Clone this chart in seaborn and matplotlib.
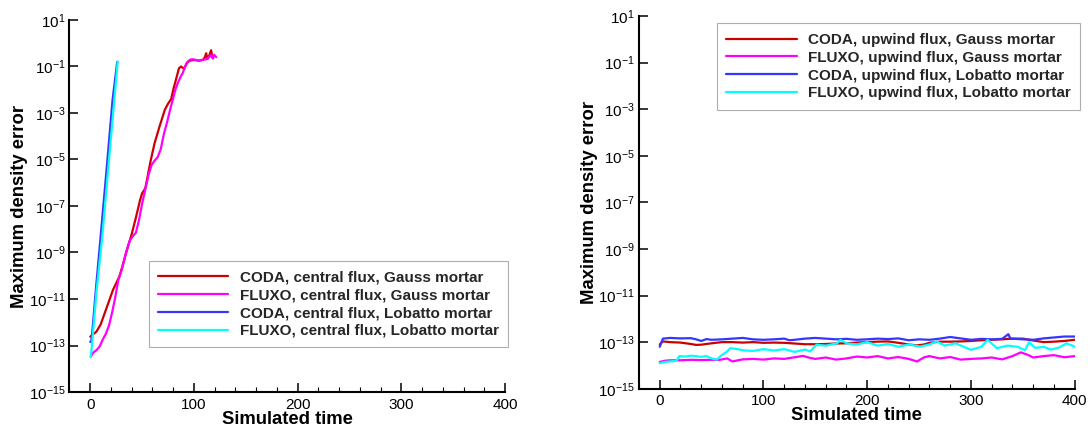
import numpy as np
import pandas as pd
import matplotlib
matplotlib.use("Agg")
import matplotlib.pyplot as plt
import seaborn as sns
from matplotlib.ticker import FixedLocator, MultipleLocator, FuncFormatter, NullLocator

# ---------------- data (log10 of maximum density error) -------------
# Left panel: central flux
left_labels = ["CODA, central flux, Gauss mortar", "FLUXO, central flux, Gauss mortar",
               "CODA, central flux, Lobatto mortar", "FLUXO, central flux, Lobatto mortar"]
coda_cg_t = [0, 2, 6, 10, 14, 18, 22, 28, 31, 35, 40, 44, 48, 50, 53, 55, 58, 62, 67, 72, 75,
             78, 80, 83, 85.5, 87.5, 90.5, 93, 96, 100, 105, 109, 110.5, 111.7, 113, 114.5,
             116.5, 117.5, 118.5]
coda_cg_e = [-12.62, -12.55, -12.4, -12.1, -11.6, -11.1, -10.6, -10.04, -9.6, -8.95, -8.2,
             -7.5, -6.75, -6.45, -6.25, -5.8, -5.1, -4.3, -3.55, -2.85, -2.6, -2.4, -2.0, -1.5,
             -1.08, -1.0, -1.1, -0.85, -0.75, -0.72, -0.75, -0.7, -0.6, -0.43, -0.68, -0.55,
             -0.3, -0.55, -0.65]
fluxo_cg_t = [0.5, 3, 6, 9, 12, 15, 18, 21, 24, 27, 30, 34.5, 38, 41, 44, 47, 50, 53, 56, 59,
              62, 65, 68, 71, 74.6, 77, 79.5, 82, 84.3, 87, 89.1, 91.5, 94, 96.5, 98.8, 102,
              105, 108, 111.7, 114, 116.5, 118, 119.5, 121.4]
fluxo_cg_e = [-13.48, -13.3, -13.2, -13.05, -12.75, -12.5, -12.15, -11.6, -10.95, -10.2, -9.8,
              -9.0, -8.5, -8.3, -8.15, -7.6, -6.9, -6.3, -5.7, -5.25, -5.05, -4.9, -4.55, -3.9,
              -3.3, -2.85, -2.44, -2.0, -1.72, -1.45, -1.29, -1.0, -0.79, -0.7, -0.69, -0.72,
              -0.75, -0.72, -0.69, -0.62, -0.5, -0.65, -0.5, -0.6]
coda_cl_t = [0, 1, 2, 6, 10.3, 16, 21.5, 26]
coda_cl_e = [-12.85, -12.8, -12.4, -10.3, -8.17, -5.3, -2.44, -0.8]
fluxo_cl_t = [0.5, 2, 6, 11.9, 17.5, 23.2, 26.5]
fluxo_cl_e = [-13.5, -12.8, -10.7, -8.17, -5.3, -2.44, -0.78]

# Right panel: upwind flux
right_labels = ["CODA, upwind flux, Gauss mortar", "FLUXO, upwind flux, Gauss mortar",
                "CODA, upwind flux, Lobatto mortar", "FLUXO, upwind flux, Lobatto mortar"]
coda_ug_t = [0, 3, 10, 20, 30, 35, 40, 50, 60, 70, 80, 90, 100, 110, 120, 130, 140, 150, 160,
             170, 180, 190, 200, 210, 220, 230, 240, 248, 255, 260, 270, 280, 290, 300, 310,
             320, 330, 340, 350, 360, 370, 380, 390, 400]
coda_ug_e = [-13.1, -12.97, -13.0, -13.02, -13.08, -13.12, -13.11, -13.05, -13.0, -13.0,
             -13.02, -13.0, -13.03, -13.02, -13.03, -13.06, -13.09, -13.09, -13.08, -13.06,
             -13.05, -13.02, -13.0, -12.98, -12.97, -13.03, -13.1, -13.14, -13.1, -13.03,
             -12.98, -12.98, -12.97, -12.95, -12.92, -12.9, -12.88, -12.85, -12.85, -12.93,
             -13.0, -12.98, -12.95, -12.9]
fluxo_ug_t = [0, 5, 10, 20, 30, 40, 50, 58, 65, 70, 80, 90, 100, 110, 120, 130, 138, 145, 150,
              160, 170, 180, 190, 200, 210, 220, 230, 240, 248, 255, 260, 270, 280, 290, 300,
              310, 320, 330, 340, 348, 355, 360, 370, 380, 390, 400]
fluxo_ug_e = [-13.85, -13.8, -13.78, -13.78, -13.76, -13.77, -13.76, -13.76, -13.7, -13.83,
              -13.74, -13.72, -13.75, -13.7, -13.72, -13.65, -13.59, -13.68, -13.72, -13.66,
              -13.75, -13.7, -13.62, -13.66, -13.6, -13.7, -13.64, -13.72, -13.83, -13.65,
              -13.6, -13.7, -13.64, -13.75, -13.72, -13.7, -13.66, -13.74, -13.6, -13.44,
              -13.55, -13.66, -13.6, -13.56, -13.65, -13.6]
coda_ul_t = [0, 3, 10, 20, 30, 35, 40, 45, 50, 60, 70, 80, 90, 100, 110, 120, 125, 130, 140,
             150, 160, 170, 180, 190, 200, 210, 220, 230, 240, 250, 260, 270, 280, 290, 300,
             310, 320, 330, 336, 338, 350, 360, 370, 380, 390, 400]
coda_ul_e = [-13.2, -12.85, -12.82, -12.84, -12.83, -12.88, -12.95, -12.87, -12.9, -12.88,
             -12.85, -12.82, -12.88, -12.9, -12.88, -12.85, -12.92, -12.9, -12.85, -12.82,
             -12.85, -12.88, -12.86, -12.9, -12.88, -12.85, -12.87, -12.84, -12.92, -12.88,
             -12.9, -12.85, -12.78, -12.84, -12.9, -12.86, -12.88, -12.86, -12.66, -12.85,
             -12.88, -12.9, -12.84, -12.8, -12.76, -12.76]
fluxo_ul_t = [0, 5, 10, 16, 19, 25, 30, 40, 45, 50, 55, 60, 65, 68, 75, 80, 90, 100, 110, 120,
              130, 140, 145, 151, 160, 171, 174, 180, 190, 200, 210, 220, 230, 240, 251, 260,
              267, 275, 285, 300, 310, 316, 325, 335, 345, 352, 356, 362, 370, 377, 385, 392,
              400]
fluxo_ul_e = [-13.9, -13.85, -13.83, -13.8, -13.6, -13.62, -13.58, -13.63, -13.6, -13.7,
              -13.75, -13.55, -13.4, -13.26, -13.3, -13.35, -13.38, -13.3, -13.36, -13.3,
              -13.42, -13.32, -13.4, -13.11, -13.15, -13.05, -12.9, -13.05, -13.1, -13.0,
              -13.15, -13.08, -13.2, -13.1, -13.19, -13.1, -12.97, -13.15, -13.05, -13.33,
              -13.2, -12.9, -13.26, -13.15, -13.2, -13.35, -13.0, -13.25, -13.2, -13.32,
              -13.23, -13.05, -13.19]

colors = ["#cc0000", "#ff00ff", "#3535ff", "#00ffff"]
xticks_major = [0, 100, 200, 300, 400]
ytick_exponents = [1, -1, -3, -5, -7, -9, -11, -13, -15]


def long_df(series, labels):
    frames = []
    for (t, e), lab in zip(series, labels):
        frames.append(pd.DataFrame({"time": t, "error": np.power(10.0, e), "series": lab}))
    return pd.concat(frames, ignore_index=True)


left_df = long_df([(coda_cg_t, coda_cg_e), (fluxo_cg_t, fluxo_cg_e),
                   (coda_cl_t, coda_cl_e), (fluxo_cl_t, fluxo_cl_e)], left_labels)
right_df = long_df([(coda_ug_t, coda_ug_e), (fluxo_ug_t, fluxo_ug_e),
                    (coda_ul_t, coda_ul_e), (fluxo_ul_t, fluxo_ul_e)], right_labels)

# ---------------- style -------------
sns.set_theme(style="white")
plt.rcParams["font.family"] = ["Liberation Sans", "DejaVu Sans"]
plt.rcParams["mathtext.fontset"] = "custom"
plt.rcParams["mathtext.rm"] = "Liberation Sans"
plt.rcParams["mathtext.it"] = "Liberation Sans:italic"
plt.rcParams["mathtext.bf"] = "Liberation Sans:bold"

fig = plt.figure(figsize=(10.91, 4.28), dpi=100)
ax_l = fig.add_axes([0.0637, 0.0841, 0.3994, 0.8692])
ax_r = fig.add_axes([0.5857, 0.0918, 0.3994, 0.8708])


def style_axes(ax, df, labels, leg_anchor):
    sns.lineplot(data=df, x="time", y="error", hue="series", hue_order=labels,
                 palette=dict(zip(labels, colors)), estimator=None, sort=False,
                 linewidth=1.6, legend=False, ax=ax)
    ax.set_yscale("log")
    ax.set_xlim(-20, 400)
    ax.set_ylim(1e-15, 1e1)
    for s in ["top", "right"]:
        ax.spines[s].set_visible(False)
    for s in ["left", "bottom"]:
        ax.spines[s].set_linewidth(1.5)
        ax.spines[s].set_color("black")
    ax.xaxis.set_major_locator(FixedLocator(xticks_major))
    ax.xaxis.set_minor_locator(MultipleLocator(20))
    ax.yaxis.set_major_locator(FixedLocator([10.0 ** k for k in ytick_exponents]))
    ax.yaxis.set_minor_locator(NullLocator())
    ax.yaxis.set_major_formatter(FuncFormatter(
        lambda v, p: r"$\mathregular{10^{%d}}$" % int(round(np.log10(v)))))
    ax.tick_params(axis="both", which="major", direction="in", length=6.5, width=1.1,
                   labelsize=11, color="black", labelcolor="black")
    ax.tick_params(axis="x", which="minor", direction="in", length=3.3, width=0.8,
                   color="black", bottom=True)
    ax.tick_params(axis="x", which="major", pad=4, bottom=True)
    ax.tick_params(axis="y", which="major", pad=3, left=True)
    ax.set_xlabel("Simulated time", fontsize=13.3, fontweight="bold", color="black")
    ax.set_ylabel("Maximum density error", fontsize=13.3, fontweight="bold", color="black")
    ax.xaxis.set_label_coords(0.5, -0.073)
    ax.xaxis.label.set_va("center")
    ax.yaxis.set_label_coords(-0.1136, 0.5)
    ax.yaxis.label.set_va("center")
    leg = ax.legend(ax.get_lines()[:4], labels, loc="upper left", bbox_to_anchor=leg_anchor,
                    borderaxespad=0, frameon=True, fancybox=False,
                    prop={"weight": "bold", "size": 11}, handlelength=4.6,
                    handletextpad=0.75, labelspacing=0.25, borderpad=0.62)
    leg.get_frame().set_edgecolor("#9a9a9a")
    leg.get_frame().set_linewidth(0.8)
    for line in leg.get_lines():
        line.set_linewidth(1.6)


style_axes(ax_l, left_df, left_labels, (0.1815, 0.352))
style_axes(ax_r, right_df, right_labels, (0.179, 0.98))

fig.savefig("out.png", dpi=100)
